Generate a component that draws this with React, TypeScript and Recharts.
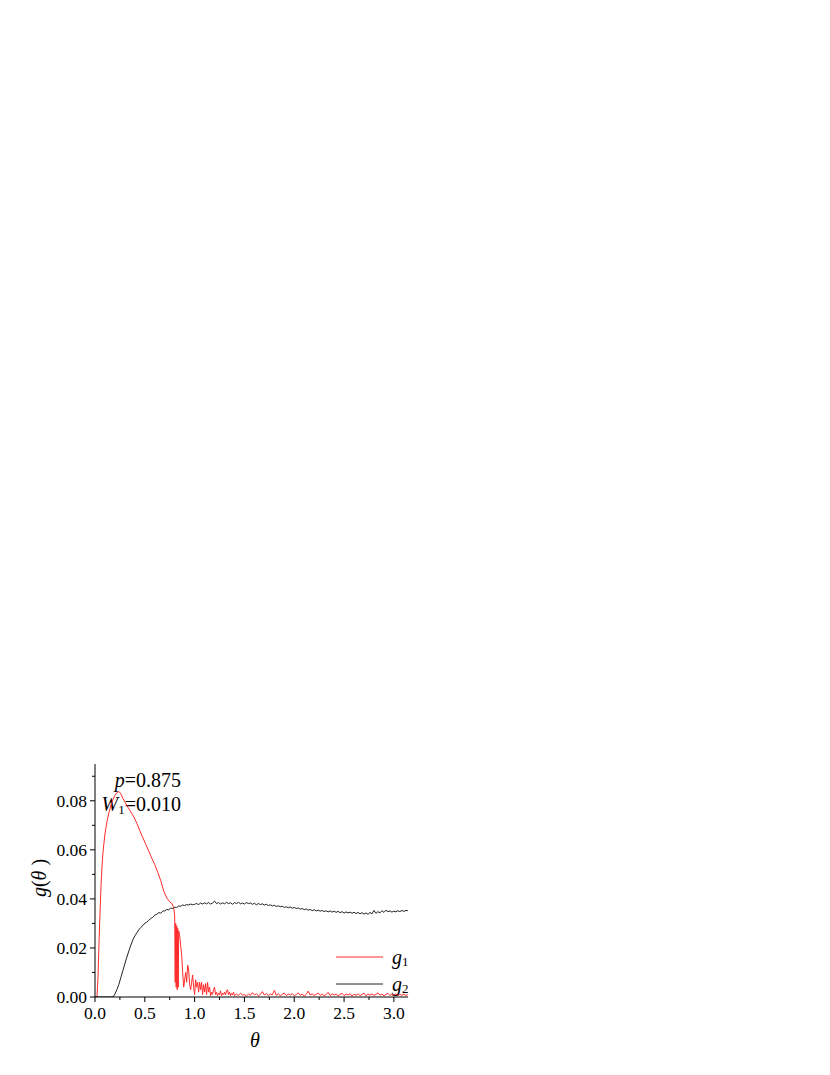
import React from "react";
import { LineChart, Line, XAxis, YAxis, Customized } from "recharts";

const FONT = "Liberation Serif, DejaVu Serif, serif";

type P = [number, number];

// g1 (red): rise and linear decline
const g1Peak: P[] = [
  [0, 0], [0.02, 0], [0.03, 0.008], [0.04, 0.022], [0.05, 0.034], [0.06, 0.045],
  [0.07, 0.053], [0.08, 0.059], [0.1, 0.0665], [0.12, 0.0715], [0.14, 0.0752],
  [0.16, 0.0782], [0.18, 0.0805], [0.2, 0.0822], [0.22, 0.0833], [0.24, 0.0838],
  [0.26, 0.0828], [0.28, 0.081], [0.3, 0.0795], [0.33, 0.0774], [0.36, 0.0754],
  [0.39, 0.0734], [0.42, 0.0708], [0.45, 0.0678], [0.48, 0.065], [0.51, 0.0622],
  [0.54, 0.0594], [0.57, 0.0566], [0.6, 0.054], [0.63, 0.0508], [0.66, 0.0474],
  [0.69, 0.0432], [0.72, 0.0404], [0.75, 0.0388], [0.77, 0.0382], [0.79, 0.0365],
];

// g1: sharp drop with oscillations
const g1Drop: P[] = [
  [0.8, 0.033], [0.805, 0.006], [0.81, 0.03], [0.815, 0.004], [0.82, 0.029],
  [0.825, 0.003], [0.83, 0.028], [0.835, 0.004], [0.84, 0.027], [0.85, 0.025],
  [0.86, 0.021], [0.87, 0.017], [0.88, 0.01], [0.89, 0.004], [0.9, 0.007],
  [0.91, 0.01], [0.92, 0.006], [0.93, 0.013], [0.94, 0.011], [0.95, 0.005],
  [0.96, 0.003], [0.97, 0.006], [0.98, 0.009], [0.99, 0.004], [1.0, 0.001],
  [1.01, 0.007], [1.02, 0.004], [1.03, 0.006], [1.04, 0.002], [1.05, 0.006],
  [1.06, 0.003], [1.07, 0.006], [1.08, 0.001], [1.09, 0.005], [1.1, 0.002],
  [1.11, 0.0055], [1.12, 0.001], [1.13, 0.006], [1.14, 0.002], [1.15, 0.004],
  [1.16, 0.0005], [1.17, 0.002], [1.18, 0.001], [1.19, 0.003], [1.2, 0.004],
  [1.21, 0.001], [1.22, 0.002], [1.23, 0.0005], [1.24, 0.0015], [1.25, 0.001],
  [1.26, 0.0025], [1.27, 0.0005], [1.28, 0.0015], [1.29, 0.001], [1.3, 0.002],
  [1.31, 0.0008], [1.32, 0.0025], [1.33, 0.003], [1.34, 0.001], [1.35, 0.002],
  [1.36, 0.0006], [1.37, 0.0015], [1.38, 0.0008], [1.39, 0.002], [1.4, 0.0005],
];

// g1: noisy tail near zero
const g1Tail: P[] = [
  [1.42, 0.0012], [1.44, 0.0006], [1.46, 0.0015], [1.48, 0.0008], [1.5, 0.001],
  [1.52, 0.0004], [1.54, 0.0012], [1.56, 0.0007], [1.58, 0.0018], [1.6, 0.0009],
  [1.62, 0.0013], [1.64, 0.0005], [1.66, 0.0011], [1.68, 0.0022], [1.7, 0.0008],
  [1.72, 0.0014], [1.74, 0.0006], [1.76, 0.0012], [1.78, 0.0009], [1.8, 0.0027],
  [1.82, 0.0007], [1.84, 0.0013], [1.86, 0.0005], [1.88, 0.0011], [1.9, 0.0016],
  [1.92, 0.0006], [1.94, 0.0012], [1.96, 0.0008], [1.98, 0.0014], [2.0, 0.0005],
  [2.02, 0.001], [2.04, 0.0017], [2.06, 0.0007], [2.08, 0.0012], [2.1, 0.0004],
  [2.12, 0.0011], [2.14, 0.0024], [2.16, 0.0008], [2.18, 0.0013], [2.2, 0.0006],
  [2.22, 0.0011], [2.24, 0.0016], [2.26, 0.0007], [2.28, 0.0012], [2.3, 0.0005],
  [2.32, 0.001], [2.34, 0.0019], [2.36, 0.0006], [2.38, 0.0013], [2.4, 0.0008],
  [2.42, 0.0012], [2.44, 0.0005], [2.46, 0.0011], [2.48, 0.0015], [2.5, 0.0006],
  [2.52, 0.0012], [2.54, 0.0008], [2.56, 0.0014], [2.58, 0.0004], [2.6, 0.0011],
  [2.62, 0.0007], [2.64, 0.0013], [2.66, 0.0006], [2.68, 0.001], [2.7, 0.0016],
  [2.72, 0.0005], [2.74, 0.0012], [2.76, 0.0008], [2.78, 0.0013], [2.8, 0.0006],
  [2.82, 0.0011], [2.84, 0.0017], [2.86, 0.0007], [2.88, 0.0012], [2.9, 0.0005],
  [2.92, 0.001], [2.94, 0.0015], [2.96, 0.0006], [2.98, 0.0012], [3.0, 0.0008],
  [3.02, 0.0013], [3.04, 0.0005], [3.06, 0.0011], [3.08, 0.0007], [3.1, 0.0012],
  [3.12, 0.0006], [3.14, 0.001],
];

// g2 (black): rise
const g2Rise: P[] = [
  [0, 0], [0.18, 0], [0.2, 0.0012], [0.22, 0.003], [0.24, 0.0052], [0.26, 0.008],
  [0.28, 0.0108], [0.3, 0.0136], [0.32, 0.0163], [0.34, 0.0188], [0.36, 0.0212],
  [0.38, 0.0233], [0.4, 0.0249], [0.42, 0.0262], [0.44, 0.0274], [0.46, 0.0284],
  [0.48, 0.0291], [0.5, 0.0301], [0.52, 0.0305], [0.54, 0.0313], [0.56, 0.032],
  [0.58, 0.0325], [0.6, 0.0334], [0.62, 0.0337], [0.64, 0.0344], [0.66, 0.0342],
  [0.68, 0.035], [0.7, 0.0351], [0.72, 0.0357], [0.74, 0.0355], [0.76, 0.0362],
  [0.78, 0.0361], [0.8, 0.0366], [0.82, 0.0365], [0.84, 0.0371], [0.86, 0.037],
  [0.88, 0.0375], [0.9, 0.0373], [0.92, 0.0377], [0.94, 0.0375], [0.96, 0.0379],
  [0.98, 0.0376],
];

// g2: plateau and slow decline
const g2Plateau: P[] = [
  [1.0, 0.0378], [1.02, 0.0381], [1.04, 0.0377], [1.06, 0.0383], [1.08, 0.0379],
  [1.1, 0.0384], [1.12, 0.038], [1.14, 0.0385], [1.16, 0.0379], [1.18, 0.0383],
  [1.2, 0.0391], [1.22, 0.0381], [1.24, 0.0385], [1.26, 0.0379], [1.28, 0.0384],
  [1.3, 0.038], [1.32, 0.0386], [1.34, 0.0381], [1.36, 0.0384], [1.38, 0.0378],
  [1.4, 0.0385], [1.42, 0.0381], [1.44, 0.0386], [1.46, 0.038], [1.48, 0.0383],
  [1.5, 0.0379], [1.52, 0.0385], [1.54, 0.0381], [1.56, 0.0383], [1.58, 0.0378],
  [1.6, 0.0382], [1.62, 0.0376], [1.64, 0.0381], [1.66, 0.0377], [1.68, 0.038],
  [1.7, 0.0375], [1.72, 0.0378], [1.74, 0.0373], [1.76, 0.0376], [1.78, 0.0371],
  [1.8, 0.0374], [1.82, 0.0369], [1.84, 0.0372], [1.86, 0.0368], [1.88, 0.037],
  [1.9, 0.0365], [1.92, 0.0368], [1.94, 0.0364], [1.96, 0.0367], [1.98, 0.0362],
  [2.0, 0.0365], [2.02, 0.0361], [2.04, 0.0363], [2.06, 0.0358], [2.08, 0.0361],
  [2.1, 0.0356], [2.12, 0.0359], [2.14, 0.0354], [2.16, 0.0357], [2.18, 0.0352],
  [2.2, 0.0356], [2.22, 0.0351], [2.24, 0.0354], [2.26, 0.035], [2.28, 0.0353],
  [2.3, 0.0348], [2.32, 0.0352], [2.34, 0.0347], [2.36, 0.0351], [2.38, 0.0346],
  [2.4, 0.035], [2.42, 0.0345], [2.44, 0.0349], [2.46, 0.0344], [2.48, 0.0348],
  [2.5, 0.0342], [2.52, 0.0347], [2.54, 0.0343], [2.56, 0.0346], [2.58, 0.0341],
  [2.6, 0.0346], [2.62, 0.034], [2.64, 0.0345], [2.66, 0.0339], [2.68, 0.0344],
  [2.7, 0.0338], [2.72, 0.0343], [2.74, 0.0337], [2.76, 0.0345], [2.78, 0.0339],
  [2.8, 0.0353], [2.82, 0.0341], [2.84, 0.0348], [2.86, 0.0343], [2.88, 0.0352],
  [2.9, 0.0345], [2.92, 0.0354], [2.94, 0.0348], [2.96, 0.0351], [2.98, 0.0346],
  [3.0, 0.035], [3.02, 0.0347], [3.04, 0.0352], [3.06, 0.0348], [3.08, 0.0353],
  [3.1, 0.0349], [3.12, 0.0353], [3.14, 0.0352],
];

const xTicks = [0, 0.25, 0.5, 0.75, 1, 1.25, 1.5, 1.75, 2, 2.25, 2.5, 2.75, 3];
const yTicks = [0, 0.01, 0.02, 0.03, 0.04, 0.05, 0.06, 0.07, 0.08, 0.09];

const series = [
  { key: "g1", sub: "1", color: "#ff2a2a", data: [...g1Peak, ...g1Drop, ...g1Tail] },
  { key: "g2", sub: "2", color: "#222222", data: [...g2Rise, ...g2Plateau] },
];

const toRows = (pts: P[]) => pts.map(([theta, g]) => ({ theta, g }));

const textStyle: React.CSSProperties = { fontFamily: FONT };

const YTick = (props: any) => {
  const { x, y, payload } = props;
  const v = payload.value as number;
  const major = Math.round(v * 100) % 2 === 0;
  return (
    <g>
      <line x1={x - (major ? 5 : 3)} x2={x} y1={y} y2={y} stroke="#000" strokeWidth={1} />
      {major && (
        <text x={x - 8} y={y} textAnchor="end" dominantBaseline="central" style={{ ...textStyle, fontSize: 17.5 }} fill="#000">
          {v.toFixed(2)}
        </text>
      )}
    </g>
  );
};

const XTick = (props: any) => {
  const { x, y, payload } = props;
  const v = payload.value as number;
  const major = Math.round(v * 100) % 50 === 0;
  return (
    <g>
      <line x1={x} x2={x} y1={y} y2={y + (major ? 5 : 3)} stroke="#000" strokeWidth={1} />
      {major && (
        <text x={x} y={y + 16} textAnchor="middle" dominantBaseline="central" style={{ ...textStyle, fontSize: 17.5 }} fill="#000">
          {v.toFixed(1)}
        </text>
      )}
    </g>
  );
};

// page coords minus body margin (8px)
const Annotations = () => (
  <g style={textStyle} fill="#000">
    <text x={173} y={772} textAnchor="end" dominantBaseline="central" style={{ ...textStyle, fontSize: 20 }}>
      <tspan fontStyle="italic">p</tspan>
      <tspan>=0.875</tspan>
    </text>
    <text x={173} y={796} textAnchor="end" dominantBaseline="central" style={{ ...textStyle, fontSize: 20 }}>
      <tspan fontStyle="italic">W</tspan>
      <tspan fontSize={13} dy={5}>1</tspan>
      <tspan dy={-5}>=0.010</tspan>
    </text>
    <text x={31} y={870} textAnchor="middle" dominantBaseline="central" style={{ ...textStyle, fontSize: 20 }} transform="rotate(-90 31 870)">
      <tspan fontStyle="italic">g</tspan>
      <tspan>(</tspan>
      <tspan fontStyle="italic">θ</tspan>
      <tspan> )</tspan>
    </text>
    <text x={247} y={1032} textAnchor="middle" dominantBaseline="central" style={{ ...textStyle, fontSize: 20, fontStyle: "italic" }}>
      θ
    </text>
    {series.map((s, i) => (
      <g key={s.key}>
        <line x1={328} x2={375} y1={949 + i * 27} y2={949 + i * 27} stroke={s.color} strokeWidth={1} />
        <text x={384} y={949 + i * 27} dominantBaseline="central" style={{ ...textStyle, fontSize: 20 }}>
          <tspan fontStyle="italic">g</tspan>
          <tspan fontSize={13} dy={4}>{s.sub}</tspan>
        </text>
      </g>
    ))}
  </g>
);

export default function App() {
  return (
    <div style={{ width: 822, height: 1050, background: "#fff" }}>
      <LineChart width={822} height={1050} margin={{ top: 756, right: 422, bottom: 31, left: 37 }}>
        <XAxis
          dataKey="theta"
          type="number"
          domain={[0, Math.PI]}
          allowDataOverflow
          ticks={xTicks}
          interval={0}
          tickSize={0}
          tickMargin={0}
          tickLine={false}
          height={30}
          axisLine={{ stroke: "#000", strokeWidth: 1 }}
          tick={<XTick />}
        />
        <YAxis
          type="number"
          domain={[0, 0.095]}
          allowDataOverflow
          ticks={yTicks}
          interval={0}
          tickSize={0}
          tickMargin={0}
          tickLine={false}
          width={50}
          axisLine={{ stroke: "#000", strokeWidth: 1 }}
          tick={<YTick />}
        />
        {series.map((s) => (
          <Line
            key={s.key}
            data={toRows(s.data)}
            dataKey="g"
            type="linear"
            stroke={s.color}
            strokeWidth={1}
            dot={false}
            activeDot={false}
            isAnimationActive={false}
          />
        ))}
        <Customized component={Annotations} />
      </LineChart>
    </div>
  );
}
